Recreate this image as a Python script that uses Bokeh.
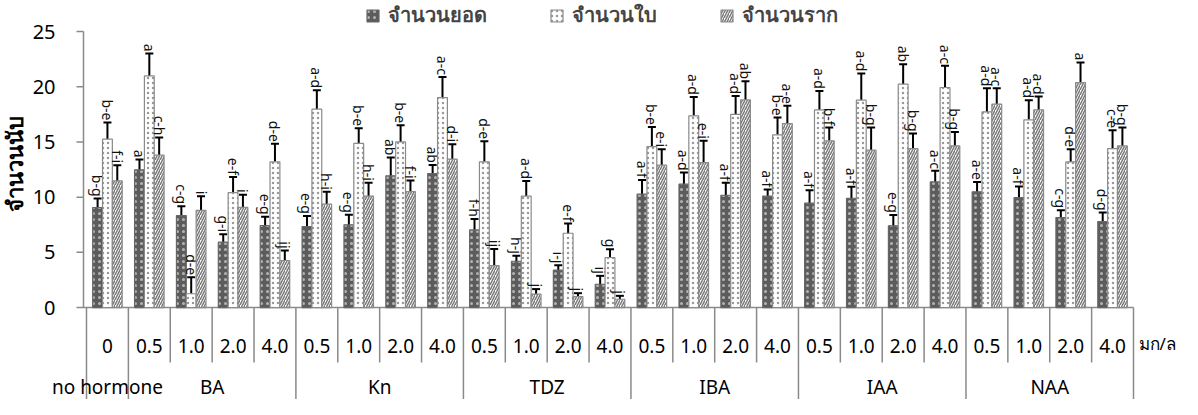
from bokeh.plotting import figure
from bokeh.models import (ColumnDataSource, Range1d, Whisker, TeeHead,
                          Legend, LegendItem)
from bokeh.core.properties import value
from bokeh.embed import file_html
from bokeh.resources import INLINE

# ---------------- data ----------------
groups = ["no hormone", "BA", "Kn", "TDZ", "IBA", "IAA", "NAA"]
group_sizes = [1, 4, 4, 4, 4, 4, 4]
concs = ["0", "0.5", "1.0", "2.0", "4.0", "0.5", "1.0", "2.0", "4.0",
         "0.5", "1.0", "2.0", "4.0", "0.5", "1.0", "2.0", "4.0",
         "0.5", "1.0", "2.0", "4.0", "0.5", "1.0", "2.0", "4.0"]
unit_label = "มก/ล"
series_names = ["จำนวนยอด", "จำนวนใบ", "จำนวนราก"]
y_label = "จำนวนนับ"
y_ticks = [0, 5, 10, 15, 20, 25]

shoot = [9.06, 12.47, 8.33, 5.92, 7.43, 7.34, 7.49, 11.93, 12.14, 7.03, 4.19, 3.38, 2.11,
         10.27, 11.17, 10.17, 10.1, 9.45, 9.9, 7.4, 11.38, 10.48, 9.96, 8.15, 7.79]
shoot_err = [0.81, 0.93, 0.85, 0.72, 0.8, 0.96, 0.91, 1.67, 0.78, 1.0, 0.5, 0.45, 0.76,
             1.29, 1.05, 1.13, 0.6, 1.18, 1.03, 0.99, 1.0, 0.9, 1.0, 0.67, 0.81]
leaf = [15.25, 20.98, 1.25, 10.4, 13.2, 17.97, 14.86, 15.0, 19.02, 13.2, 10.1, 6.73, 4.53,
        14.58, 17.36, 17.5, 15.64, 17.9, 18.78, 20.23, 19.93, 17.72, 17.0, 13.19, 14.4]
leaf_err = [1.51, 2.02, 1.5, 1.42, 1.63, 1.72, 1.39, 1.51, 1.87, 1.87, 1.36, 0.88, 0.75,
            1.78, 1.72, 1.66, 1.57, 1.72, 2.42, 1.81, 1.96, 2.14, 1.78, 1.15, 1.66]
root = [11.47, 13.8, 8.8, 9.07, 4.26, 9.36, 10.1, 10.5, 13.44, 3.8, 1.22, 1.0, 0.75,
        12.89, 13.13, 18.8, 16.67, 15.1, 14.25, 14.4, 14.64, 18.42, 17.9, 20.38, 14.64]
root_err = [1.42, 1.6, 1.28, 1.15, 0.9, 1.12, 1.2, 1.0, 1.36, 1.5, 0.45, 0.3, 0.31,
            1.45, 1.97, 1.7, 1.6, 1.2, 2.05, 1.36, 1.26, 1.45, 1.21, 1.82, 1.66]

shoot_lbl = ["b-g", "a", "c-g", "g-i", "e-g", "e-g", "e-g", "ab", "ab", "f-h", "h-j", "i-j", "ij",
             "a-f", "a-d", "a-f", "a-f", "a-f", "a-f", "e-g", "a-c", "a-e", "a-f", "c-g", "d-g"]
leaf_lbl = ["b-e", "a", "d-e", "e-f", "d-e", "a-d", "b-e", "b-e", "a-c", "d-e", "a-d", "e-f", "g",
            "b-e", "a-d", "a-d", "b-e", "a-d", "a-d", "ab", "a-c", "a-d", "a-d", "d-e", "c-e"]
root_lbl = ["f-i", "c-h", "i", "i", "ij", "h-i", "h-i", "f-i", "d-i", "ij", "j", "j", "j",
            "e-i", "e-i", "ab", "a-e", "b-f", "b-g", "b-g", "b-g", "a-c", "a-d", "a", "b-g"]

# ---------------- layout ----------------
W, H = 1182, 399
n = len(concs)
FONT = "Noto Sans"
AX = "#8a8a8a"
Y0, Y1 = -8.33, 27.81
X0, X1 = -2.0535, 26.17
AXX = -0.0716          # position of the value axis line
TICK0 = -0.239         # outer end of value-axis ticks
TLBL = -0.74           # right edge of value-axis tick labels
YLBL = -1.72           # centre of the value-axis title

p = figure(width=W, height=H, output_backend="svg", toolbar_location=None,
           x_axis_location=None, y_axis_location=None,
           min_border_left=0, min_border_right=0, min_border_top=0, min_border_bottom=0,
           x_range=Range1d(X0, X1), y_range=Range1d(Y0, Y1))
p.outline_line_color = None
p.xgrid.visible = False
p.ygrid.visible = False
p.background_fill_color = "white"

# ---- value axis (line, ticks, labels, title) ----
yt = [float(t) for t in y_ticks]
p.segment(x0=[AXX], y0=[yt[0]], x1=[AXX], y1=[yt[-1]], line_color=AX, line_width=1.5)
p.segment(x0=[TICK0] * len(yt), y0=yt, x1=[AXX] * len(yt), y1=yt, line_color=AX, line_width=1.5)
p.text(x=[TLBL] * len(yt), y=yt, text=[str(t) for t in y_ticks], text_align="right",
       text_baseline="middle", text_font=value(FONT), text_font_size=value("20px"),
       text_color="black")
p.text(x=[YLBL], y=[(yt[0] + yt[-1]) / 2], text=[y_label], angle=1.5707963,
       text_align="center", text_baseline="middle", y_offset=-6, text_font=value(FONT),
       text_font_size=value("22px"), text_font_style="bold", text_color="black")

# ---- category axis line and separators ----
p.segment(x0=[AXX], y0=[0], x1=[n], y1=[0], line_color=AX, line_width=1.5)
group_edges = [0]
for s in group_sizes:
    group_edges.append(group_edges[-1] + s)
inner_x = [b for b in range(n + 1) if b not in group_edges]
p.segment(x0=inner_x, y0=[0] * len(inner_x), x1=inner_x, y1=[-4.98] * len(inner_x),
          line_color=AX, line_width=1.5)
p.segment(x0=group_edges, y0=[0] * len(group_edges), x1=group_edges,
          y1=[Y0] * len(group_edges), line_color=AX, line_width=1.5)

xc = [i + 0.5 for i in range(n)]
p.text(x=xc, y=[-3.44] * n, text=concs, text_align="center", text_baseline="middle",
       text_font=value(FONT), text_font_size=value("19px"), text_color="black")
gx = [(group_edges[k] + group_edges[k + 1]) / 2 for k in range(len(groups))]
p.text(x=gx, y=[-7.16] * len(groups), text=groups, text_align="center",
       text_baseline="middle", text_font=value(FONT), text_font_size=value("19px"),
       text_color="black")
p.text(x=[n + 0.12], y=[-3.3], text=[unit_label], text_align="left", text_baseline="middle",
       text_font=value(FONT), text_font_size=value("17px"), text_color="black")

# ---------------- bars ----------------
bw = 0.235
offs = [-bw, 0.0, bw]
styles = [
    dict(fill_color="#5c5c5c", line_color="#666666", hatch_pattern="dot",
         hatch_color="#b4b4b4", hatch_scale=6, hatch_weight=1.5),
    dict(fill_color="white", line_color="#8a8a8a", hatch_pattern="dot",
         hatch_color="#9a9a9a", hatch_scale=5, hatch_weight=1.5),
    dict(fill_color="white", line_color="#8a8a8a", hatch_pattern="right_diagonal_line",
         hatch_color="#7a7a7a", hatch_scale=5, hatch_weight=1.5),
]
vals = [shoot, leaf, root]
errs = [shoot_err, leaf_err, root_err]
lbls = [shoot_lbl, leaf_lbl, root_lbl]
renderers = []
for k in range(3):
    xs = [c + offs[k] for c in xc]
    v = vals[k]
    e = errs[k]
    if k == 0:
        lower = [a - b for a, b in zip(v, e)]
    else:
        lower = list(v)
    upper = [a + b for a, b in zip(v, e)]
    src = ColumnDataSource(dict(x=xs, top=v, lower=lower, upper=upper, lbl=lbls[k]))
    r = p.vbar(x="x", top="top", bottom=0, width=bw, source=src, line_width=1.2, **styles[k])
    renderers.append(r)
    wk = Whisker(base="x", lower="lower", upper="upper", source=src, dimension="height",
                 line_color="black", line_width=2,
                 upper_head=TeeHead(size=8, line_color="black", line_width=2),
                 lower_head=(TeeHead(size=8, line_color="black", line_width=2) if k == 0 else None))
    p.add_layout(wk)
    p.text(x="x", y="upper", text="lbl", source=src, angle=-1.5707963,
           text_align="right", text_baseline="middle", y_offset=-2,
           text_font=value(FONT), text_font_size=value("14px"), text_color="#111111")

legend = Legend(items=[LegendItem(label=series_names[k], renderers=[renderers[k]]) for k in range(3)],
                orientation="horizontal", location=(365, 368),
                glyph_width=15, glyph_height=15, label_standoff=8, spacing=62,
                padding=0, margin=0, border_line_color=None, background_fill_alpha=0,
                label_text_font=FONT, label_text_font_size="20px", label_text_font_style="bold",
                label_height=20)
p.add_layout(legend)

open("out.html", "w").write(file_html(p, INLINE))
